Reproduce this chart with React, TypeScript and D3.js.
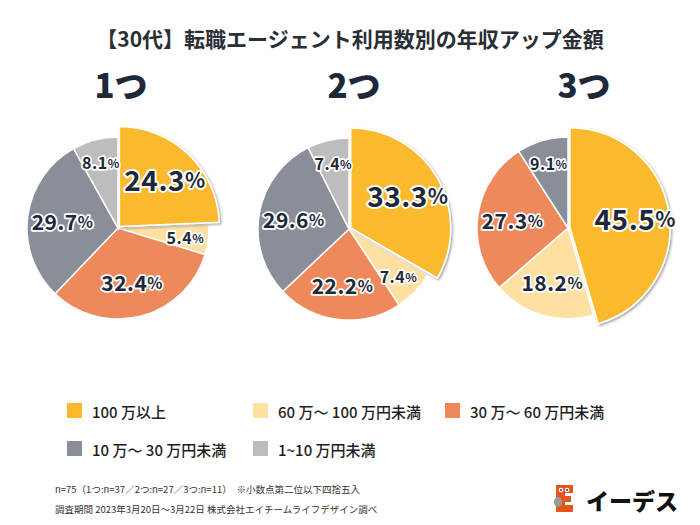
import React from "react";
import * as d3 from "d3";

const categories = ["100 万以上", "60 万〜 100 万円未満", "30 万〜 60 万円未満", "10 万〜 30 万円未満", "1~10 万円未満"];
const groups = ["1つ", "2つ", "3つ"];
const values1 = [24.3, 5.4, 32.4, 29.7, 8.1];
const values2 = [33.3, 7.4, 22.2, 29.6, 7.4];
const values3 = [45.5, 18.2, 27.3, 9.1, 0];
const seriesValues = [values1, values2, values3];
const title = "【30代】転職エージェント利用数別の年収アップ金額";
const note1 = "n=75（1つ:n=37／2つ:n=27／3つ:n=11）　※小数点第二位以下四捨五入";
const note2 = "調査期間 2023年3月20日〜3月22日 株式会社エイチームライフデザイン調べ";

const COLORS = ["#FBB92E", "#FDE0A2", "#EE895B", "#898E98", "#BDBDBD"];
const FONT = "'Noto Sans CJK JP', 'Noto Sans', sans-serif";
const TEXT = "#1D2839";

const pieCx = [118, 349, 568];
const pieCy = [228, 229, 228];
const titleCx = [121, 354, 584];
const R = 91;
const RBIG = 100;

function Pie({ values, cx, cy }: { values: number[]; cx: number; cy: number }) {
  const pie = d3.pie<number>().sort(null).value((d) => d).startAngle(0).endAngle(2 * Math.PI);
  const arcs = pie(values);
  const arcSmall = d3.arc<d3.PieArcDatum<number>>().innerRadius(0).outerRadius(R);
  const arcBig = d3.arc<d3.PieArcDatum<number>>().innerRadius(0).outerRadius(RBIG);
  return (
    <g transform={`translate(${cx},${cy})`}>
      {arcs.map((a, i) =>
        i === 0 || a.value === 0 ? null : (
          <path key={i} d={arcSmall(a) || ""} fill={COLORS[i]} stroke="#fff" strokeWidth={1.5} />
        )
      )}
      {(() => {
        const a = arcs[0];
        const mid = (a.startAngle + a.endAngle) / 2;
        const off = 2;
        return (
          <path
            d={arcBig(a) || ""}
            transform={`translate(${Math.sin(mid) * off},${-Math.cos(mid) * off})`}
            fill={COLORS[0]}
            stroke="#fff"
            strokeWidth={1.5}
            filter="url(#shadow)"
          />
        );
      })()}
      {arcs.map((a, i) => {
        if (a.value === 0) return null;
        const mid = (a.startAngle + a.endAngle) / 2;
        const big = i === 0;
        const small = a.value < 10;
        const lr = big ? 68 : small ? 68 : 56;
        const fs = big ? 28 : small ? 16 : 21;
        const x = Math.sin(mid) * lr;
        const y = -Math.cos(mid) * lr;
        return (
          <text
            key={"t" + i}
            x={x}
            y={y}
            textAnchor="middle"
            dominantBaseline="central"
            fontFamily={FONT}
            fontWeight={700}
            fontSize={fs}
            fill={TEXT}
            stroke="#fff"
            strokeWidth={big ? 4 : 3.5}
            strokeLinejoin="round"
            paintOrder="stroke"
            letterSpacing={0.5}
          >
            {a.value.toFixed(1)}
            <tspan fontSize={fs * 0.75}>%</tspan>
          </text>
        );
      })}
    </g>
  );
}

export default function App() {
  const legendX = [67, 253, 445];
  const legendY = [403, 441];
  return (
    <svg width={700} height={525} style={{ position: "absolute", left: 0, top: 0, background: "#fff" }}>
      <defs>
        <filter id="shadow" x="-20%" y="-20%" width="140%" height="140%">
          <feDropShadow dx={1.5} dy={1.5} stdDeviation={1} floodColor="#000" floodOpacity={0.35} />
        </filter>
      </defs>
      <rect width={700} height={525} fill="#fff" />
      <text x={350} y={47} textAnchor="middle" fontFamily={FONT} fontWeight={700} fontSize={21} fill="#2A2E35">
        {title}
      </text>
      {groups.map((g, i) => (
        <text key={g} x={titleCx[i]} y={98} textAnchor="middle" fontFamily={FONT} fontWeight={900} fontSize={33} fill={TEXT}>
          {g}
        </text>
      ))}
      {seriesValues.map((v, i) => (
        <Pie key={i} values={v} cx={pieCx[i]} cy={pieCy[i]} />
      ))}
      {categories.map((c, i) => {
        const col = i % 3;
        const row = Math.floor(i / 3);
        return (
          <g key={c} transform={`translate(${legendX[col]},${legendY[row]})`}>
            <rect width={15} height={15} fill={COLORS[i]} />
            <text x={25} y={8} dominantBaseline="central" fontFamily={FONT} fontWeight={500} fontSize={15} fill="#1E1E1E">
              {c}
            </text>
          </g>
        );
      })}
      <text x={55} y={489} dominantBaseline="central" fontFamily={FONT} fontWeight={400} fontSize={9.5} fill="#333">
        {note1}
      </text>
      <text x={55} y={509} dominantBaseline="central" fontFamily={FONT} fontWeight={400} fontSize={9.5} fill="#333">
        {note2}
      </text>
      <g transform="translate(556,485)">
        <path d="M0,0 H17 V8 H9 V11 H15 V17 H9 V20 H17 V27 H0 Z" fill="#E8541E" />
        <circle cx={5} cy={5} r={2.3} fill="#fff" />
        <circle cx={11} cy={5} r={2.3} fill="#fff" />
        <circle cx={5} cy={5} r={1} fill="#333" />
        <circle cx={11} cy={5} r={1} fill="#333" />
        <ellipse cx={2} cy={17} rx={4} ry={5} fill="#9A9A9A" />
      </g>
      <text x={586} y={500} dominantBaseline="central" fontFamily={FONT} fontWeight={900} fontSize={23} fill="#111">
        イーデス
      </text>
    </svg>
  );
}
